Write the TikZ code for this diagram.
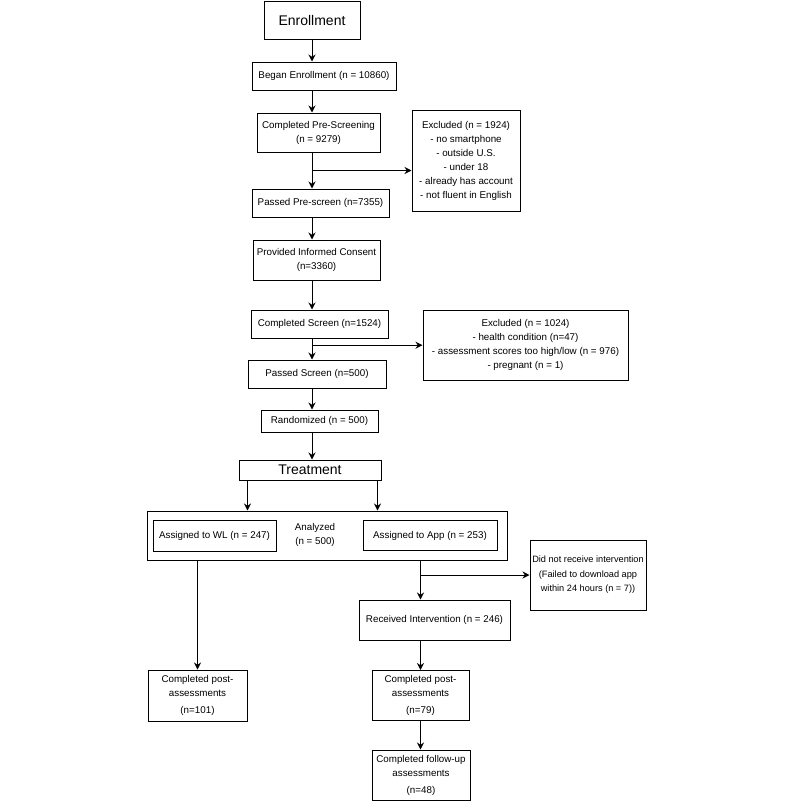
\documentclass[tikz,border=0pt]{standalone}
\usepackage{fontspec}
\setmainfont{Liberation Sans}
\usetikzlibrary{arrows.meta,calc}

\tikzset{
    box/.style={draw, align=center, inner sep=0pt, font=\fontsize{9.8}{14}\selectfont},
    titlebox/.style={box, font=\fontsize{14}{16}\selectfont},
    >={Stealth[length=7pt,width=7pt]},
}

\begin{document}
\begin{tikzpicture}[x=1pt, y=-1pt, line width=1pt]
    \useasboundingbox (0,0) rectangle (800,809);

    % Enrollment and pre-screening
    \node[titlebox, minimum width=96pt, minimum height=38pt] (enroll) at (312,20) {Enrollment};
    \node[box, minimum width=144pt, minimum height=28pt] (began) at (324,76) {Began Enrollment (n = 10860)};
    \node[box, minimum width=123pt, minimum height=39pt] (prescreen) at (318.5,132.5) {Completed Pre-Screening\\(n = 9279)};
    \node[box, minimum width=108pt, minimum height=101pt] (excla) at (466,160.5) {Excluded (n = 1924)\\- no smartphone\\- outside U.S.\\- under 18\\- already has account\\- not fluent in English};
    \node[box, minimum width=137pt, minimum height=28pt] (passedpre) at (320.5,203) {Passed Pre-screen (n=7355)};
    \node[box, minimum width=127pt, minimum height=40pt] (consent) at (316.5,260) {Provided Informed Consent\\(n=3360)};

    % Screening
    \node[box, minimum width=137pt, minimum height=28pt] (screen) at (319.5,324) {Completed Screen (n=1524)};
    \node[box, minimum width=205pt, minimum height=70pt] (exclb) at (525.5,345) {Excluded (n = 1024)\\- health condition (n=47)\\- assessment scores too high/low (n = 976)\\- pregnant (n = 1)};
    \node[box, minimum width=138pt, minimum height=28pt] (passedscreen) at (317,374) {Passed Screen (n=500)};
    \node[box, minimum width=117pt, minimum height=22pt] (random) at (319.5,421) {Randomized (n = 500)};
    \node[titlebox, minimum width=142pt, minimum height=20pt] (treat) at (310,470) {Treatment};

    % Arms
    \node[draw, minimum width=360pt, minimum height=49pt] (analyzed) at (327,535.5) {};
    \node[box, minimum width=123pt, minimum height=31pt] (wl) at (214.5,535.5) {Assigned to WL (n = 247)};
    \node[box, minimum width=134pt, minimum height=30pt] (app) at (430,535.5) {Assigned to App (n = 253)};
    \node[align=center, inner sep=0pt, font=\fontsize{9.8}{14}\selectfont] (analyzedtxt) at (315,535) {Analyzed\\(n = 500)};
    \node[box, minimum width=116pt, minimum height=70pt, font=\fontsize{9.2}{14.5}\selectfont] (nointerv) at (588,575) {Did not receive intervention\\(Failed to download app\\within 24 hours (n = 7))};
    \node[box, minimum width=151pt, minimum height=40pt] (received) at (434.5,620) {Received Intervention (n = 246)};

    % Assessments
    \node[box, minimum width=99pt, minimum height=51pt] (wlpost) at (197.5,695.5) {Completed post-\\assessments\\[3pt](n=101)};
    \node[box, minimum width=97pt, minimum height=50pt] (apppost) at (420.5,695.5) {Completed post-\\assessments\\[3pt](n=79)};
    \node[box, minimum width=98pt, minimum height=50pt] (followup) at (421,775) {Completed follow-up\\assessments\\[3pt](n=48)};

    % Arrows
    \draw[->] (enroll.south) -- (enroll.south |- began.north);
    \draw[->] (began.south -| enroll) -- (prescreen.north -| enroll);
    \draw[->] (prescreen.south -| enroll) -- (passedpre.north -| enroll);
    \coordinate (splita) at ($(prescreen.south -| enroll)!.5!(passedpre.north -| enroll)$);
    \draw[->] (splita) -- (splita -| excla.west);
    \draw[->] (passedpre.south -| enroll) -- (consent.north -| enroll);
    \draw[->] (consent.south -| enroll) -- (screen.north -| enroll);
    \draw[->] (screen.south -| enroll) -- (passedscreen.north -| enroll);
    \coordinate (splitb) at ($(screen.south -| enroll)!.32!(passedscreen.north -| enroll)$);
    \draw[->] (splitb) -- (splitb -| exclb.west);
    \draw[->] (passedscreen.south -| enroll) -- (random.north -| enroll);
    \draw[->] (random.south -| enroll) -- (treat.north -| enroll);
    \draw[->] ([xshift=9pt]treat.south west) -- ([xshift=9pt]treat.south west |- analyzed.north);
    \draw[->] ([xshift=-4pt]treat.south east) -- ([xshift=-4pt]treat.south east |- analyzed.north);
    \draw[->] (analyzed.south -| wlpost) -- (wlpost.north);
    \draw[->] (analyzed.south -| apppost) -- (received.north -| apppost);
    \draw[->] (nointerv.west -| apppost) -- (nointerv.west);
    \draw[->] (received.south -| apppost) -- (apppost.north);
    \draw[->] (apppost.south) -- (apppost.south |- followup.north);
\end{tikzpicture}
\end{document}
